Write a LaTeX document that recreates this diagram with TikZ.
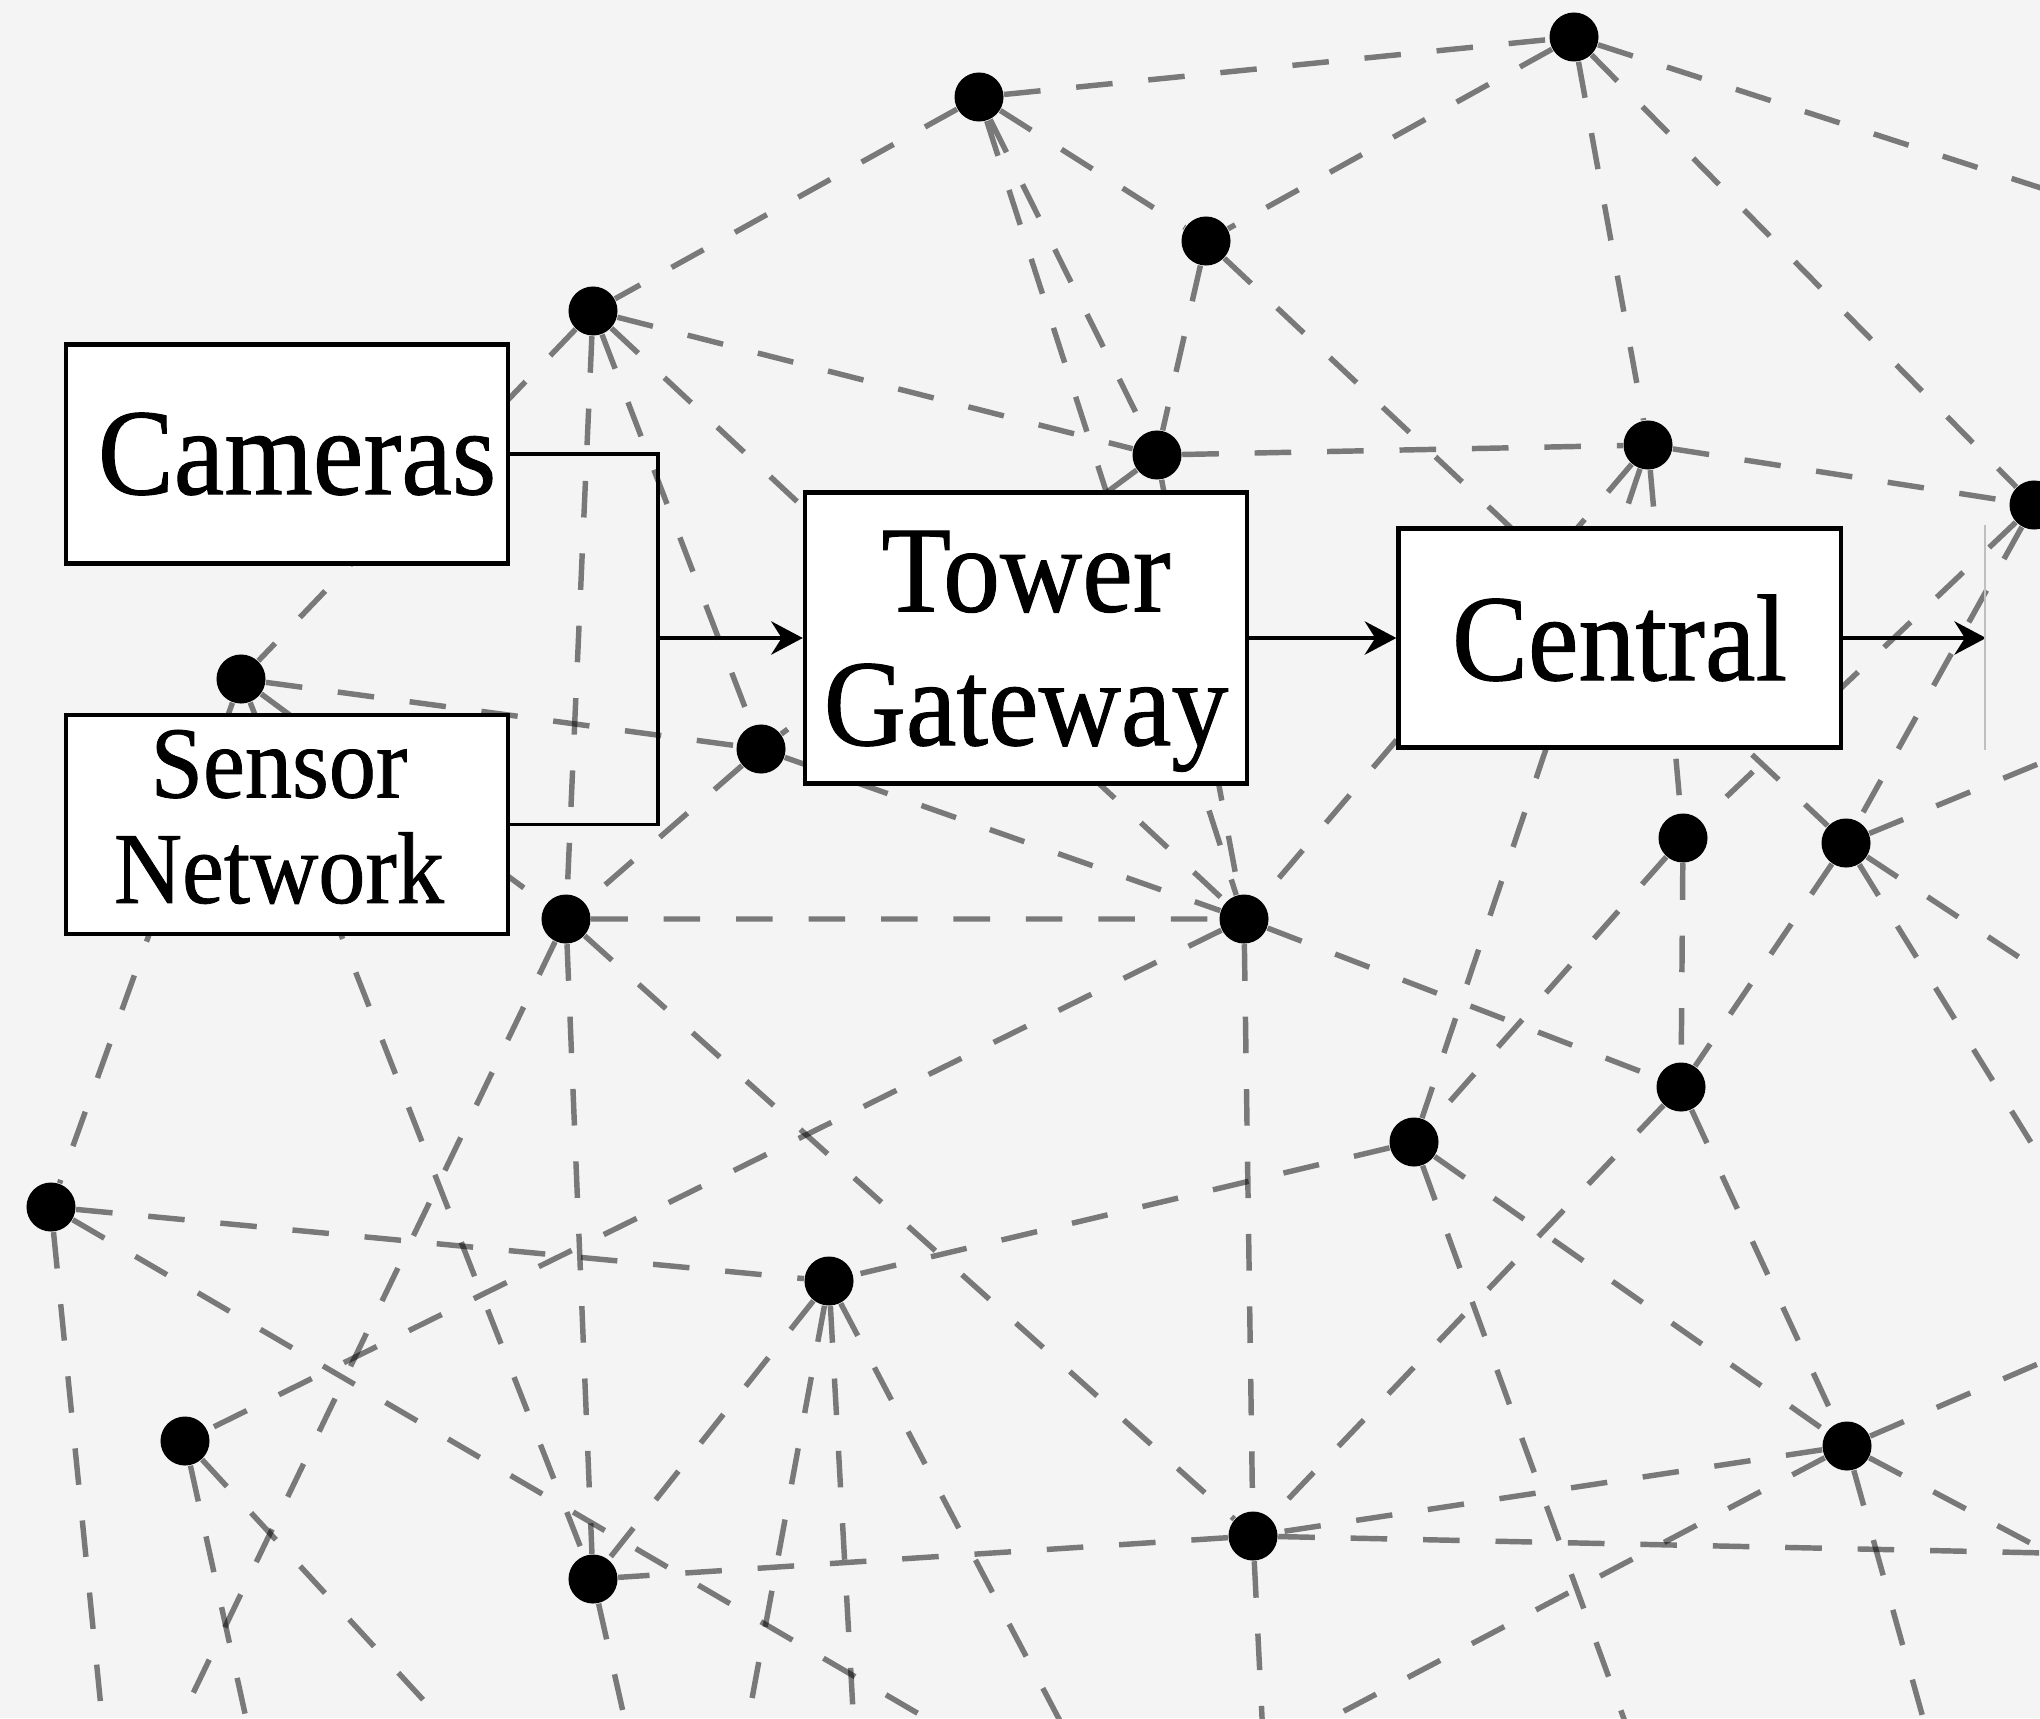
\documentclass[tikz,border=0pt]{standalone}
\usepackage{fontspec}
\setmainfont{Liberation Serif}
\newfontfamily\boxfont[FakeBold=0.8]{Liberation Serif}
\usepackage{graphicx}
\usetikzlibrary{arrows.meta, positioning}
\definecolor{paper}{HTML}{F4F4F4}
\newcommand{\boxtext}[1]{\scalebox{0.925}[1]{#1}}

\begin{document}
\begin{tikzpicture}[x=0.01cm, y=-0.01cm,
  dot/.style={circle, fill=black, inner sep=0pt, minimum size=0.49cm},
  link/.style={draw=black, draw opacity=0.5, line width=1.55pt, dash pattern=on 10.4pt off 10.2pt},
  block/.style={draw, fill=white, line width=1.2pt, minimum width=4.42cm, minimum height=2.19cm, inner sep=0pt, align=center, font=\boxfont\fontsize{35}{38}\selectfont},
  flow/.style={line width=0.9pt, -{Stealth[length=9pt, width=9.5pt, inset=3pt]}}]
\useasboundingbox (0,0) rectangle (2040,1718);
\fill[paper] (0,0) rectangle (2040,1718);
\clip (0,0) rectangle (2040,1718);

\node[dot] (n1) at (979,97) {};
\node[dot] (n2) at (1574,37) {};
\node[dot] (n3) at (1206,241) {};
\node[dot] (n4) at (593,311) {};
\node[dot] (n5) at (1157,455) {};
\node[dot] (n6) at (1648,445) {};
\node[dot] (n7) at (2034,505) {};
\node[dot] (n8) at (241,679) {};
\node[dot] (n9) at (761,749) {};
\node[dot] (n10) at (1683,838) {};
\node[dot] (n11) at (1846,843) {};
\node[dot] (n12) at (566,919) {};
\node[dot] (n13) at (1244,919) {};
\node[dot] (n14) at (1681,1087) {};
\node[dot] (n15) at (1414,1142) {};
\node[dot] (n16) at (51,1207) {};
\node[dot] (n17) at (829,1281) {};
\node[dot] (n18) at (185,1441) {};
\node[dot] (n19) at (1847,1446) {};
\node[dot] (n20) at (1253,1536) {};
\node[dot] (n21) at (593,1579) {};

\coordinate (o1) at (2140,220);
\coordinate (o2) at (2140,722);
\coordinate (o3) at (2140,1037);
\coordinate (o4) at (2140,1319);
\coordinate (o5) at (2140,1320);
\coordinate (o6) at (2140,1601);
\coordinate (o7) at (2140,1555);
\coordinate (o8) at (1951,1818);
\coordinate (o9) at (1141,1818);
\coordinate (o10) at (1660,1818);
\coordinate (o11) at (1267,1818);
\coordinate (o12) at (1111,1818);
\coordinate (o13) at (859,1818);
\coordinate (o14) at (730,1818);
\coordinate (o15) at (1097,1818);
\coordinate (o16) at (647,1818);
\coordinate (o17) at (532,1818);
\coordinate (o18) at (268,1818);
\coordinate (o19) at (133,1818);
\coordinate (o20) at (112,1818);

\draw[link] (n1) -- (n2) (n1) -- (n3) (n1) -- (n4) (n1) -- (n5) (n1) -- (n13);
\draw[link] (n2) -- (n3) (n2) -- (n6) (n2) -- (n7) (n2) -- (o1);
\draw[link] (n3) -- (n5) (n3) -- (n11);
\draw[link] (n4) -- (n5) (n4) -- (n8) (n4) -- (n9) (n4) -- (n12) (n4) -- (n13);
\draw[link] (n5) -- (n6) (n5) -- (n9) (n5) -- (n13);
\draw[link] (n6) -- (n7) (n6) -- (n10) (n6) -- (n13) (n6) -- (n15);
\draw[link] (n7) -- (n10) (n7) -- (n11);
\draw[link] (n8) -- (n9) (n8) -- (n12) (n8) -- (n16) (n8) -- (n21);
\draw[link] (n9) -- (n12) (n9) -- (n13);
\draw[link] (n10) -- (n14) (n10) -- (n15);
\draw[link] (n11) -- (n14) (n11) -- (o2) (n11) -- (o3) (n11) -- (o4);
\draw[link] (n12) -- (n13) (n12) -- (n20) (n12) -- (n21) (n12) -- (o19);
\draw[link] (n13) -- (n14) (n13) -- (n18) (n13) -- (n20);
\draw[link] (n14) -- (n19) (n14) -- (n20);
\draw[link] (n15) -- (n17) (n15) -- (n19) (n15) -- (o10);
\draw[link] (n16) -- (n17) (n16) -- (o15) (n16) -- (o20);
\draw[link] (n17) -- (n21) (n17) -- (o12) (n17) -- (o13) (n17) -- (o14);
\draw[link] (n18) -- (o17) (n18) -- (o18);
\draw[link] (n19) -- (n20) (n19) -- (o5) (n19) -- (o6) (n19) -- (o8) (n19) -- (o9);
\draw[link] (n20) -- (n21) (n20) -- (o7) (n20) -- (o11);
\draw[link] (n21) -- (o16);

\node[block, minimum height=2.91cm, text depth=0pt] (tower) at (1026,638) {\boxtext{Tower}\\\boxtext{Gateway}};
\node[block, right=1.47cm of tower] (central) {\boxtext{Central}};
\node[block] (cams) at (287,454) {\hspace*{0.2cm}\boxtext{Cameras}};
\node[block, below=1.47cm of cams, text depth=0.16cm, font=\boxfont\fontsize{29}{30}\selectfont] (sensor) {\boxtext{Sensor}\hspace*{0.16cm}\\\boxtext{Network}\hspace*{0.16cm}};

\coordinate (join) at (658,638);
\coordinate (out) at (1986,638);
\coordinate (rimtop) at (1985,525);
\coordinate (rimbot) at (1985,750);
\draw[line width=0.9pt] (cams.east) -| (join) |- (sensor.east);
\draw[flow] (join) -- (tower.west);
\draw[flow] (tower) -- (central);
\draw[flow] (central) -- (out);
\draw[black!25, line width=0.4pt] (rimtop) -- (rimbot);
\end{tikzpicture}
\end{document}
